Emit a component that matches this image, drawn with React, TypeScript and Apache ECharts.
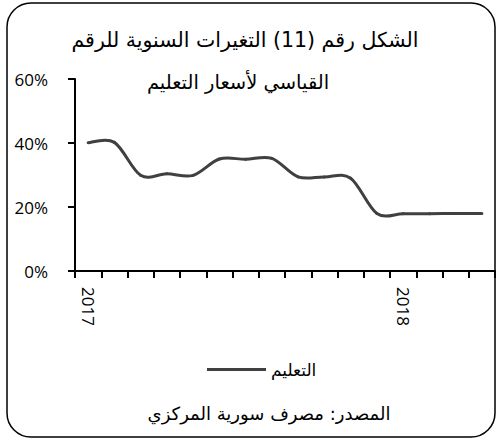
import React, { useEffect, useRef } from "react";
import * as echarts from "echarts";

const titleLine1 = "الشكل رقم (11) التغيرات السنوية للرقم";
const titleLine2 = "القياسي لأسعار التعليم";
const seriesName = "التعليم";
const sourceText = "المصدر: مصرف سورية المركزي";

const months = [
  "2017-01", "2017-02", "2017-03", "2017-04", "2017-05", "2017-06", "2017-07", "2017-08",
  "2017-09", "2017-10", "2017-11", "2017-12", "2018-01", "2018-02", "2018-03", "2018-04",
];
const educationChange = [40.1, 40.2, 29.9, 30.4, 29.9, 35.0, 34.9, 35.2, 29.4, 29.4, 29.0, 18.0, 17.9, 17.9, 18.0, 18.0];
const yTicks = [0, 20, 40, 60];

export default function App() {
  const ref = useRef<HTMLDivElement>(null);
  useEffect(() => {
    if (!ref.current) return;
    const chart = echarts.init(ref.current, undefined, { renderer: "svg" });
    const arabicFont = "DejaVu Sans";
    const latinFont = "Open Sans";
    const lineColor = "#404040";
    const n = educationChange.length;

    // Excel-like smoothed line (Catmull-Rom through every data point), drawn per segment
    const renderItem = (params: any, api: any) => {
      const i = params.dataIndex;
      if (i >= n - 1) return null;
      const pt = (k: number) => {
        const kk = Math.max(0, Math.min(n - 1, k));
        return api.coord([kk, educationChange[kk]]);
      };
      const p0 = pt(i - 1);
      const p1 = pt(i);
      const p2 = pt(i + 1);
      const p3 = pt(i + 2);
      return {
        type: "bezierCurve",
        shape: {
          x1: p1[0],
          y1: p1[1],
          x2: p2[0],
          y2: p2[1],
          cpx1: p1[0] + (p2[0] - p0[0]) / 6,
          cpy1: p1[1] + (p2[1] - p0[1]) / 6,
          cpx2: p2[0] - (p3[0] - p1[0]) / 6,
          cpy2: p2[1] - (p3[1] - p1[1]) / 6,
        },
        style: { stroke: lineColor, lineWidth: 3, fill: "none", lineCap: "round" },
      };
    };

    chart.setOption({
      animation: false,
      backgroundColor: "#ffffff",
      graphic: [
        {
          type: "rect",
          shape: { x: 7, y: 3, width: 488, height: 434, r: 24 },
          style: { fill: "none", stroke: "#000000", lineWidth: 1.5 },
          silent: true,
        },
        {
          type: "text",
          x: 245,
          y: 40,
          style: {
            text: titleLine1,
            align: "center",
            verticalAlign: "middle",
            fontFamily: arabicFont,
            fontSize: 20.5,
            fill: "#000000",
          },
        },
        {
          type: "text",
          x: 238,
          y: 82,
          style: {
            text: titleLine2,
            align: "center",
            verticalAlign: "middle",
            fontFamily: arabicFont,
            fontSize: 19.5,
            fill: "#000000",
          },
        },
        {
          type: "text",
          x: 269,
          y: 413,
          style: {
            text: sourceText,
            align: "center",
            verticalAlign: "middle",
            fontFamily: arabicFont,
            fontSize: 18,
            fill: "#000000",
          },
        },
      ],
      legend: {
        data: [{ name: seriesName, icon: "rect" }],
        left: 202,
        top: 356,
        itemWidth: 59,
        itemHeight: 3,
        itemStyle: { color: lineColor },
        textStyle: { fontFamily: arabicFont, fontSize: 17, color: "#000000", padding: [0, 0, 4, 0] },
      },
      grid: { left: 75, right: 2, top: 79, bottom: 169, containLabel: false },
      xAxis: {
        type: "category",
        data: months,
        boundaryGap: true,
        axisLine: { lineStyle: { color: "#000000", width: 2 } },
        axisTick: { show: true, length: 7, interval: 0, lineStyle: { color: "#000000", width: 2 } },
        axisLabel: {
          interval: (index: number, value: string) => value.endsWith("-01"),
          formatter: (value: string) => value.slice(0, 4),
          rotate: -90,
          margin: 16,
          fontFamily: latinFont,
          fontSize: 17,
          color: "#000000",
        },
        splitLine: { show: false },
      },
      yAxis: {
        type: "value",
        min: yTicks[0],
        max: yTicks[yTicks.length - 1],
        interval: 20,
        axisLine: { show: true, lineStyle: { color: "#000000", width: 2 } },
        axisTick: { show: true, length: 7, lineStyle: { color: "#000000", width: 2 } },
        axisLabel: {
          formatter: "{value}%",
          margin: 27,
          fontFamily: latinFont,
          fontSize: 17,
          color: "#000000",
        },
        splitLine: { show: false },
      },
      series: [
        {
          name: seriesName,
          type: "custom",
          data: educationChange.map((v, i) => [i, v]),
          encode: { x: 0, y: 1 },
          renderItem,
          itemStyle: { color: lineColor },
          clip: false,
        },
      ],
    });
    return () => chart.dispose();
  }, []);
  return (
    <div
      ref={ref}
      style={{ position: "fixed", left: 0, top: 0, width: 497, height: 440 }}
    />
  );
}
